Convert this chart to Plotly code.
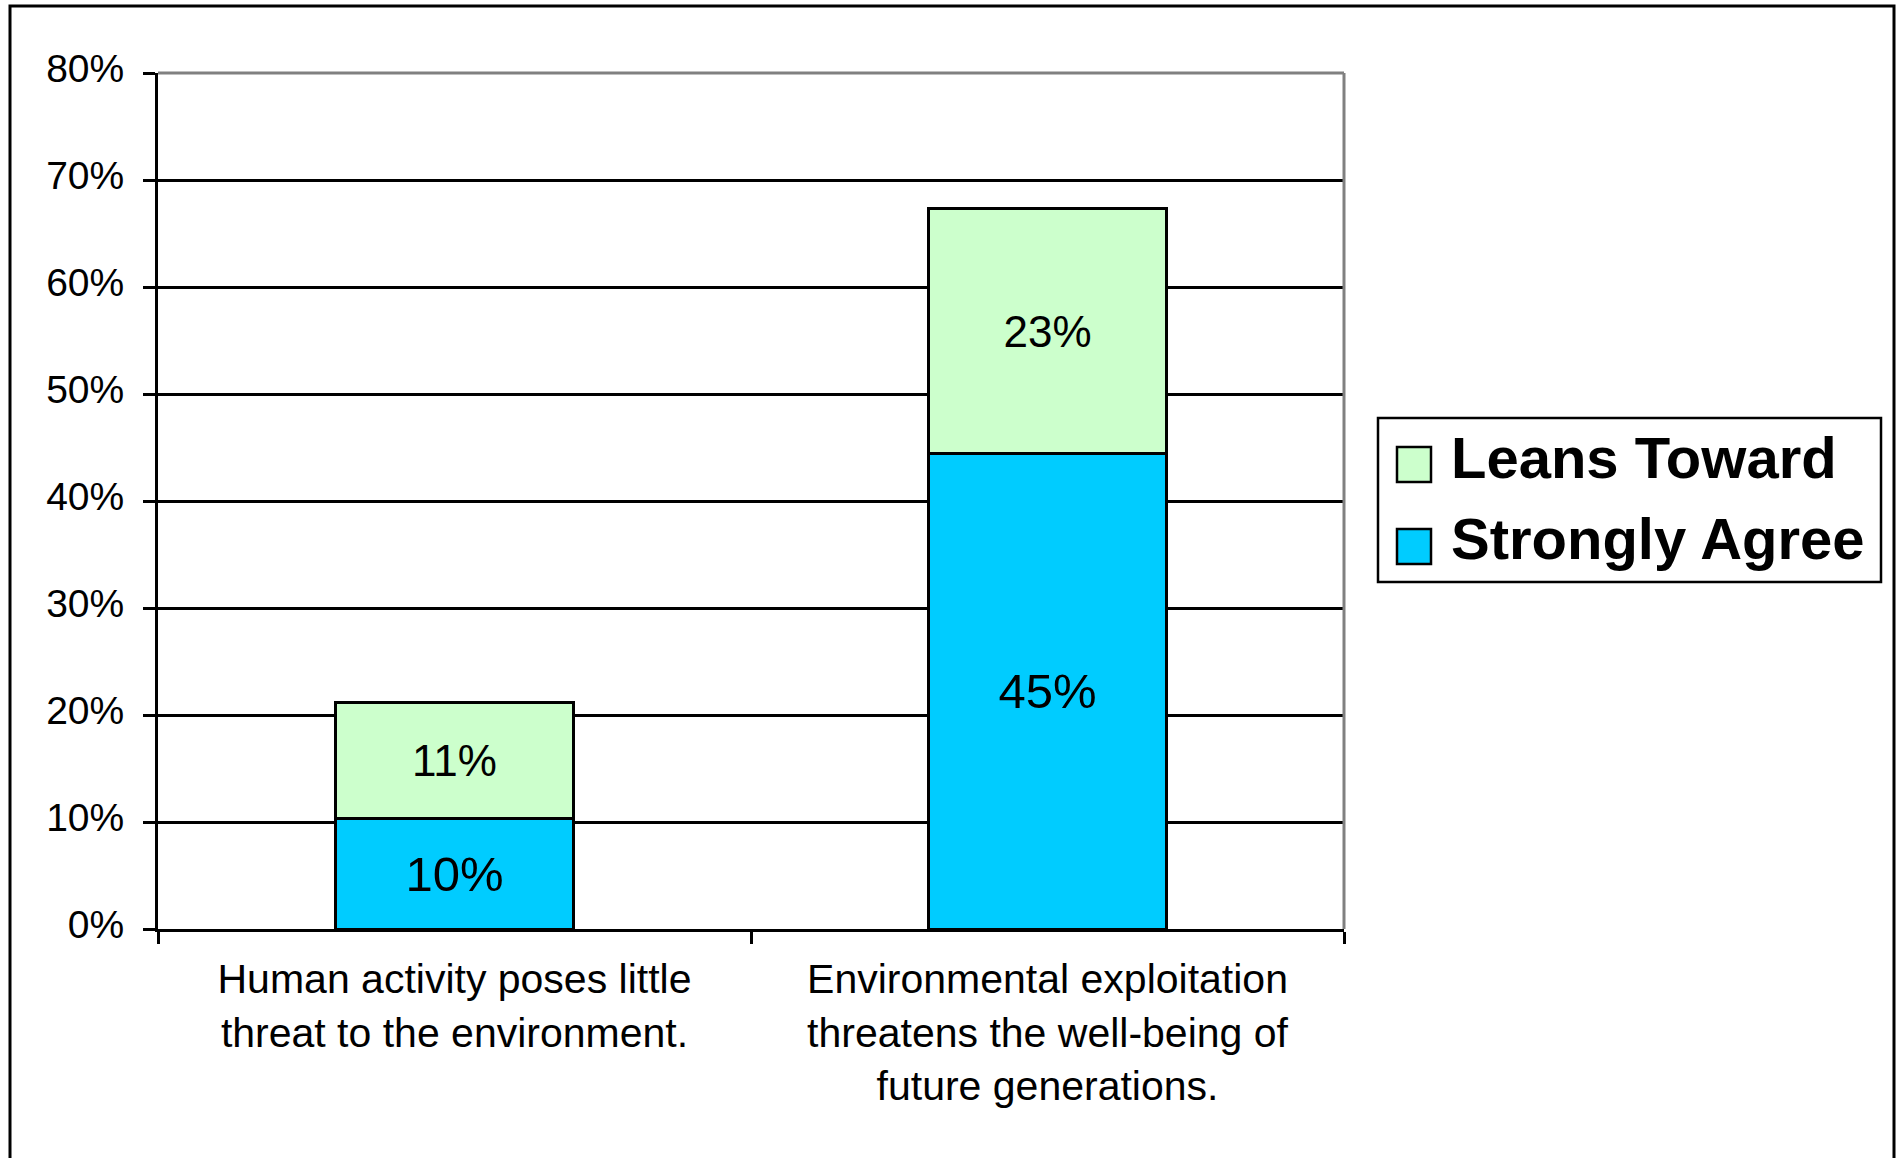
import plotly.graph_objects as go

# ---- data ----
categories = [
    "Human activity poses little<br>threat to the environment.",
    "Environmental exploitation<br>threatens the well-being of<br>future generations.",
]
strongly_agree = [10.3, 44.4]
leans_toward = [10.9, 22.9]
strongly_labels = ["10%", "45%"]
leans_labels = ["11%", "23%"]
series_names = ["Strongly Agree", "Leans Toward"]
y_tick_vals = [0, 10, 20, 30, 40, 50, 60, 70, 80]
y_tick_text = ["0%", "10%", "20%", "30%", "40%", "50%", "60%", "70%", "80%"]

# ---- styles ----
FONT = "Arial, Liberation Sans, sans-serif"
BLUE = "#00CCFF"
GREEN = "#CCFFCC"
W, H = 1902, 1158
ML, MR, MT, MB = 158, 558, 73, 229
PW, PH = W - ML - MR, H - MT - MB


def px(x):
    return (x - ML) / PW


def py(y):
    return (H - MB - y) / PH


fig = go.Figure()
fig.add_trace(go.Bar(
    x=categories, y=strongly_agree, name=series_names[0],
    marker=dict(color=BLUE, line=dict(color="black", width=3)),
    width=0.4, text=strongly_labels, textposition="inside",
    insidetextanchor="middle", constraintext="none",
    textfont=dict(size=49, color="black", family=FONT),
    showlegend=False,
))
fig.add_trace(go.Bar(
    x=categories, y=leans_toward, name=series_names[1],
    marker=dict(color=GREEN, line=dict(color="black", width=3)),
    width=0.4, text=leans_labels, textposition="inside",
    insidetextanchor="middle", constraintext="none",
    textfont=dict(size=44, color="black", family=FONT),
    showlegend=False,
))

shapes = [
    # plot-area border (gray top and right)
    dict(type="line", xref="paper", yref="paper", x0=0, x1=1, y0=1, y1=1,
         line=dict(color="#808080", width=3), layer="above"),
    dict(type="line", xref="paper", yref="paper", x0=1, x1=1, y0=0, y1=1,
         line=dict(color="#808080", width=3), layer="above"),
    # outer chart border
    dict(type="rect", xref="paper", yref="paper", x0=px(10), x1=px(1894),
         y0=py(1175), y1=py(6), line=dict(color="black", width=3)),
    # legend box
    dict(type="rect", xref="paper", yref="paper", x0=px(1378), x1=px(1881),
         y0=py(582), y1=py(418), line=dict(color="black", width=2.5),
         fillcolor="white"),
    dict(type="rect", xref="paper", yref="paper", x0=px(1397), x1=px(1431),
         y0=py(482), y1=py(447), line=dict(color="black", width=2.5),
         fillcolor=GREEN),
    dict(type="rect", xref="paper", yref="paper", x0=px(1397), x1=px(1431),
         y0=py(564), y1=py(529), line=dict(color="black", width=2.5),
         fillcolor=BLUE),
]

annotations = [
    dict(text=series_names[1], xref="paper", yref="paper", x=px(1449), y=py(457),
         xanchor="left", yanchor="middle", showarrow=False,
         font=dict(size=58, color="black", family=FONT, weight="bold")),
    dict(text=series_names[0], xref="paper", yref="paper", x=px(1449), y=py(538),
         xanchor="left", yanchor="middle", showarrow=False,
         font=dict(size=58, color="black", family=FONT, weight="bold")),
]

fig.update_layout(
    width=W, height=H,
    margin=dict(l=ML, r=MR, t=MT, b=MB),
    barmode="stack",
    plot_bgcolor="white", paper_bgcolor="white",
    showlegend=False,
    font=dict(family=FONT, color="black"),
    shapes=shapes,
    annotations=annotations,
    xaxis=dict(
        type="category", range=[-0.5, 1.5],
        showline=True, linecolor="black", linewidth=3,
        ticks="outside", tickson="boundaries", ticklen=12, tickwidth=3,
        tickcolor="black", showgrid=False, ticklabelstandoff=12,
        tickfont=dict(size=41, color="black", family=FONT),
    ),
    yaxis=dict(
        range=[0, 80], tickvals=y_tick_vals, ticktext=y_tick_text,
        showline=True, linecolor="black", linewidth=3,
        ticks="outside", ticklen=12, tickwidth=3, tickcolor="black",
        showgrid=True, gridcolor="black", gridwidth=2.5, zeroline=False,
        ticklabelstandoff=11, ticklabelshift=-5,
        tickfont=dict(size=39, color="black", family=FONT),
    ),
)

fig.write_html("out.html", config={"displayModeBar": False},
               post_script="document.body.style.margin='0';")
